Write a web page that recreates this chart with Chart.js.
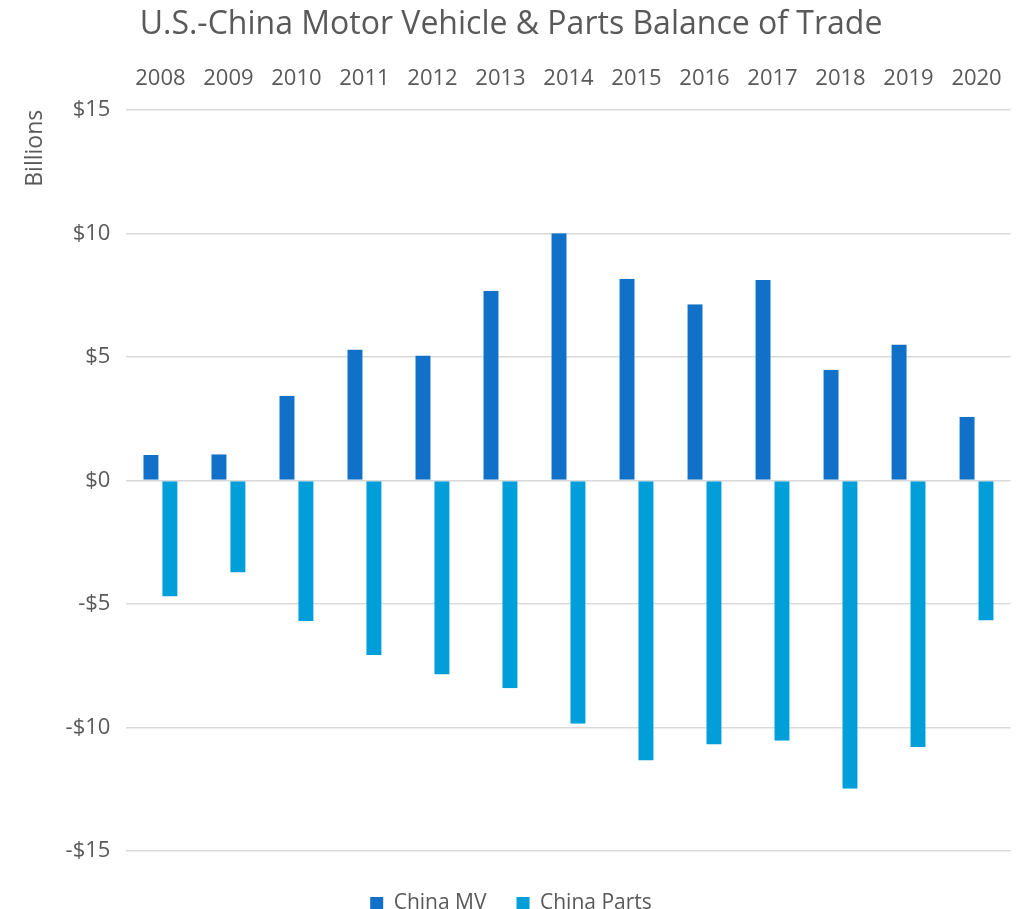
<!DOCTYPE html>
<html>
<head>
<meta charset="utf-8">
<script src="https://cdn.jsdelivr.net/npm/chart.js@4"></script>
<style>
  html, body { margin: 0; padding: 0; background: #ffffff; }
  #wrap { width: 1020px; height: 909px; }
</style>
</head>
<body>
<div id="wrap"><canvas id="tradeChart" width="1020" height="909"></canvas></div>
<script>
// Datos del gráfico (miles de millones USD)
const years = ['2008', '2009', '2010', '2011', '2012', '2013', '2014', '2015', '2016', '2017', '2018', '2019', '2020'];
const chinaMV = [1.03, 1.06, 3.43, 5.30, 5.06, 7.68, 10.0, 8.16, 7.13, 8.11, 4.48, 5.50, 2.58];
const chinaParts = [-4.70, -3.73, -5.69, -7.07, -7.86, -8.41, -9.85, -11.34, -10.69, -10.54, -12.48, -10.79, -5.67];
const yTicks = [-15, -10, -5, 0, 5, 10, 15];

const textColor = '#595959';
const fontFamily = '"Open Sans", sans-serif';

const ctx = document.getElementById('tradeChart').getContext('2d');
const tradeChart = new Chart(ctx, {
    type: 'bar',
    data: {
        labels: years,
        datasets: [{
            label: 'China MV',
            data: chinaMV,
            backgroundColor: '#1170C8',
            borderColor: 'rgba(255,255,255,0)',
            borderWidth: {left: 2, right: 2, top: 0, bottom: 0},
            borderSkipped: false
        }, {
            label: 'China Parts',
            data: chinaParts,
            backgroundColor: '#009FD9',
            borderColor: 'rgba(255,255,255,0)',
            borderWidth: {left: 2, right: 2, top: 0, bottom: 0},
            borderSkipped: false
        }]
    },
    options: {
        responsive: false,
        animation: false,
        categoryPercentage: 0.557,
        barPercentage: 1,
        layout: {
            padding: {left: 10, right: 8, top: 0, bottom: -15}
        },
        plugins: {
            title: {
                display: true,
                text: 'U.S.-China Motor Vehicle & Parts Balance of Trade',
                color: textColor,
                font: {family: fontFamily, size: 32, weight: 'normal'},
                padding: {top: 6, bottom: 3}
            },
            legend: {
                position: 'bottom',
                title: {
                    display: true,
                    text: ' ',
                    font: {size: 10},
                    padding: 0
                },
                labels: {
                    color: textColor,
                    font: {family: fontFamily, size: 21},
                    boxWidth: 13,
                    boxHeight: 13,
                    padding: 30
                }
            },
            tooltip: {enabled: false}
        },
        scales: {
            x: {
                position: 'top',
                grid: {display: false, drawTicks: false},
                border: {display: false},
                ticks: {
                    color: textColor,
                    font: {family: fontFamily, size: 22},
                    padding: 18,
                    maxRotation: 0
                }
            },
            y: {
                min: -15,
                max: 15,
                afterBuildTicks: function(axis) {
                    axis.ticks = yTicks.map(v => ({value: v}));
                },
                grid: {color: '#d9d9d9', lineWidth: 1.5, drawTicks: false},
                border: {display: false},
                ticks: {
                    color: textColor,
                    font: {family: fontFamily, size: 22},
                    padding: 16,
                    callback: function(value) {
                        return value < 0 ? '-$' + Math.abs(value) : '$' + value;
                    }
                },
                title: {
                    display: true,
                    text: 'Billions',
                    align: 'end',
                    color: textColor,
                    font: {family: fontFamily, size: 23},
                    padding: {top: 12, bottom: 0}
                }
            }
        }
    }
});
</script>
</body>
</html>
